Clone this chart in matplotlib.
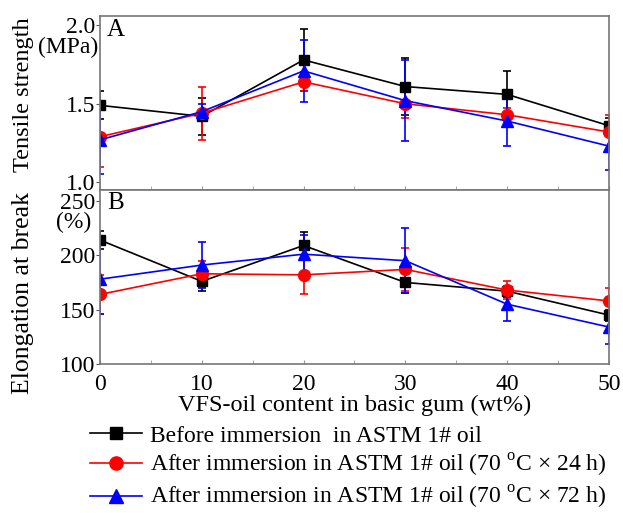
import numpy as np
import matplotlib.pyplot as plt
from matplotlib.lines import Line2D
from matplotlib.ticker import MultipleLocator

plt.rcParams['font.family'] = ['Liberation Serif', 'DejaVu Serif']
plt.rcParams['mathtext.fontset'] = 'custom'
plt.rcParams['mathtext.rm'] = 'Liberation Serif'

# VFS-oil content (wt%)
content = [0, 10, 20, 30, 40, 50]

# tensile strength (MPa)
ts_before = [1.49, 1.42, 1.78, 1.61, 1.56, 1.36]
ts_before_err = [0.09, 0.12, 0.20, 0.18, 0.15, 0.05]
ts_24h = [1.29, 1.44, 1.64, 1.50, 1.43, 1.32]
ts_24h_err = [0.19, 0.17, 0.06, 0.09, 0.04, 0.11]
ts_72h = [1.27, 1.45, 1.71, 1.52, 1.39, 1.23]
ts_72h_err = [0.22, 0.05, 0.20, 0.26, 0.16, 0.15]

# elongation at break (%)
eb_before = [214, 176, 209, 175, 167, 145]
eb_before_err = [8, 9, 12, 10, 5, 5]
eb_24h = [164, 183, 182, 187, 168, 158]
eb_24h_err = [18, 12, 18, 20, 8, 12]
eb_72h = [178, 191, 201, 195, 155, 134]
eb_72h_err = [32, 21, 18, 30, 15, 16]

labels = ['Before immersion  in ASTM 1# oil',
          'After immersion in ASTM 1# oil (70 $^{\\rm o}$C \u00d7 24 h)',
          'After immersion in ASTM 1# oil (70 $^{\\rm o}$C \u00d7 72 h)']
colors = ['black', 'red', 'blue']
markers = ['s', 'o', '^']
msizes = [7, 8.5, 8.5]

fig = plt.figure(figsize=(6.23, 5.13), dpi=100)
ax1 = fig.add_axes([0.1605, 0.6296, 0.817, 0.3392])
ax2 = fig.add_axes([0.1605, 0.2904, 0.817, 0.3392])

ts = [(ts_before, ts_before_err), (ts_24h, ts_24h_err), (ts_72h, ts_72h_err)]
eb = [(eb_before, eb_before_err), (eb_24h, eb_24h_err), (eb_72h, eb_72h_err)]

handles = []
for i in range(3):
    ax1.errorbar(content, ts[i][0], yerr=ts[i][1], color=colors[i],
                 marker=markers[i], ms=msizes[i], lw=1.2, elinewidth=1.2,
                 capsize=3, capthick=1.2)
    ax2.errorbar(content, eb[i][0], yerr=eb[i][1], color=colors[i],
                 marker=markers[i], ms=msizes[i], lw=1.2, elinewidth=1.2,
                 capsize=3, capthick=1.2)
    handles.append(Line2D([], [], color=colors[i], marker=markers[i],
                          ms=msizes[i] + 1, lw=1.2))

for ax in (ax1, ax2):
    ax.set_xlim(0, 50)
    ax.xaxis.set_major_locator(MultipleLocator(10))
    ax.xaxis.set_minor_locator(MultipleLocator(5))
    for s in ax.spines.values():
        s.set_color('#777777')
        s.set_linewidth(1.2)
    ax.tick_params(axis='y', direction='out', length=3, color='#555555',
                   labelsize=17, pad=0.5)
    ax.tick_params(axis='x', which='both', direction='in', length=3,
                   color='#999999', labelsize=17, pad=7)

ax1.set_ylim(0.95, 2.06)
ax1.set_yticks([1.0, 1.5, 2.0])
ax1.set_yticklabels(['1.0', '1.5', '2.0'])
ax1.tick_params(axis='x', labelbottom=False)

ax2.set_ylim(100, 260)
ax2.set_yticks([100, 150, 200, 250])

ax1.text(0.014, 0.98, 'A', transform=ax1.transAxes, fontsize=18,
         va='top', ha='left')
ax2.text(0.014, 0.99, 'B', transform=ax2.transAxes, fontsize=18,
         va='top', ha='left')

fig.text(0.037, 0.815, 'Tensile strength', rotation=90, fontsize=17.5,
         ha='center', va='center')
fig.text(0.158, 0.908, '(MPa)', fontsize=17, ha='right', va='center')
fig.text(0.037, 0.428, 'Elongation at break', rotation=90, fontsize=18.5,
         ha='center', va='center')
fig.text(0.146, 0.567, '(%)', fontsize=17, ha='right', va='center')

ax2.set_xlabel('VFS-oil content in basic gum (wt%)', fontsize=17.5,
               labelpad=0)

fig.legend(handles, labels, loc='upper left', bbox_to_anchor=(0.1294, 0.19),
           frameon=False, fontsize=17, handlelength=2.2,
           handletextpad=0.34, labelspacing=0.23, borderaxespad=0)

fig.savefig('out.png', dpi=100)
